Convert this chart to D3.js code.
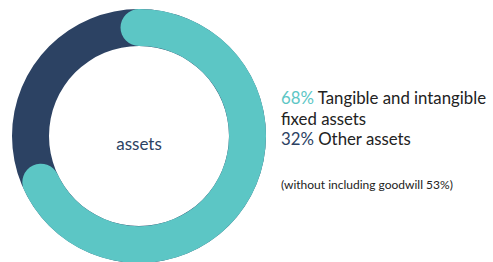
<!DOCTYPE html>
<html>
<head>
<meta charset="utf-8">
<script src="https://d3js.org/d3.v7.min.js"></script>
<style>
  body { margin: 0; background: #fff; }
  svg { display: block; font-family: Lato, "Noto Sans", sans-serif; }
  .legend { font-size: 16.8px; fill: #222; }
  .note { font-size: 12px; fill: #222; }
</style>
</head>
<body>
<script>
var categories = ["Tangible and intangible fixed assets", "Other assets"];
var shares = [68, 32];
var legendLines = [
  [{t: "68%", c: 0}, {t: " Tangible and intangible"}],
  [{t: "fixed assets"}],
  [{t: "32%", c: 1}, {t: " Other assets"}]
];
var centerLabel = "assets";
var note = "(without including goodwill 53%)";

var width = 493, height = 262;
var colors = ["#5cc6c5", "#2c4263"];
var cx = 139, cy = 136, rOut = 127, rIn = 90;
var rMid = (rOut + rIn) / 2, thick = rOut - rIn;

var svg = d3.select("body").append("svg").attr("width", width).attr("height", height);
var g = svg.append("g").attr("transform", "translate(" + cx + "," + cy + ")");

var data = d3.pie().sort(null).value(function(d){ return d; })(shares);

// navy ring underneath
g.append("path")
  .attr("d", d3.arc().innerRadius(rIn).outerRadius(rOut)({startAngle: 0, endAngle: 2 * Math.PI}))
  .attr("fill", colors[1]);

// teal share drawn as a thick stroke with round caps
var main = data[0];
var p = d3.path();
p.arc(0, 0, rMid, main.startAngle - Math.PI / 2, main.endAngle - Math.PI / 2);
g.append("path")
  .attr("d", p.toString())
  .attr("fill", "none")
  .attr("stroke", colors[0])
  .attr("stroke-width", thick)
  .attr("stroke-linecap", "round");

g.append("text").attr("text-anchor", "middle").attr("y", 14)
  .attr("font-size", 17).attr("fill", "#2c4263").text(centerLabel);

var lg = svg.append("g").attr("transform", "translate(281,104)");
legendLines.forEach(function(parts, i){
  var t = lg.append("text").attr("class", "legend").attr("y", i * 20.5);
  parts.forEach(function(s){
    t.append("tspan").attr("fill", s.c === undefined ? "#222" : colors[s.c]).text(s.t);
  });
});

svg.append("text").attr("class", "note").attr("x", 281).attr("y", 189).text(note);
</script>
</body>
</html>
